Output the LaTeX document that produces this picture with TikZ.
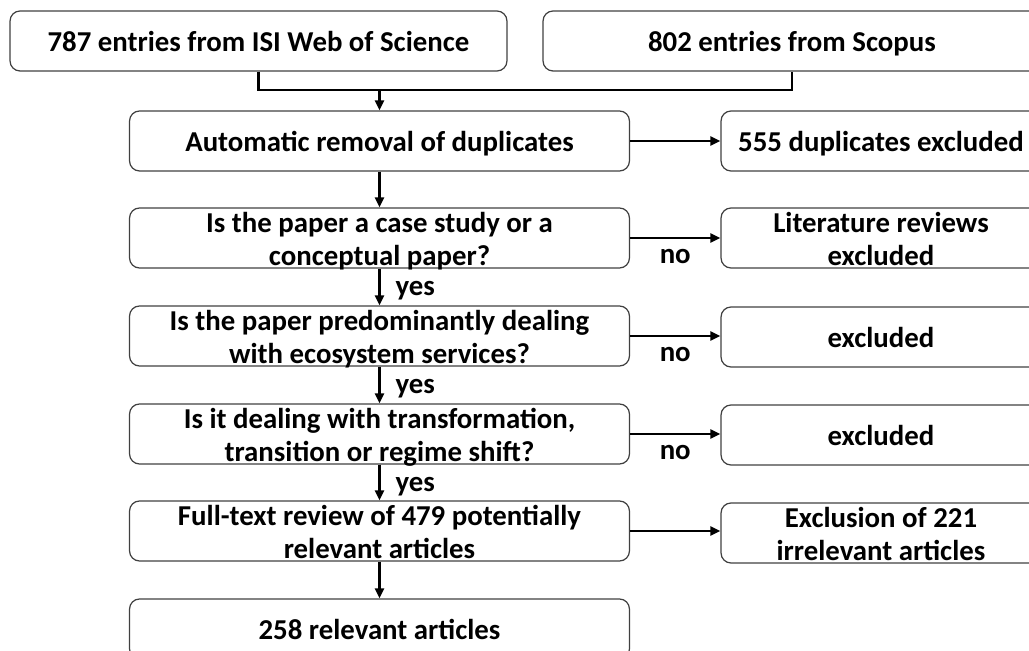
\documentclass[tikz,border=0pt]{standalone}
\usepackage{fontspec}
\setmainfont{Carlito}
\usetikzlibrary{arrows.meta}
\newcommand{\boxstrut}{\rule[-0.1cm]{0pt}{0.64cm}}

\begin{document}
\begin{tikzpicture}[
            x=0.02cm, y=-0.02cm,
            every node/.style={font=\bfseries\fontsize{16.4}{19.2}\selectfont},
            stepbox/.style={draw=black!75, line width=0.7pt, rounded corners=0.2cm, minimum height=1.2cm, inner xsep=0pt, inner ysep=-0.3cm, align=center,
              execute at begin node=\boxstrut, execute at end node=\boxstrut},
            twoline/.style={text height=1.22cm, text depth=0.1cm},
            mainbox/.style={stepbox, minimum width=10cm},
            sidebox/.style={stepbox, minimum width=6.4cm},
            answer/.style={inner sep=0pt},
            flow/.style={line width=1.3pt, -{Triangle[length=2mm,width=1.8mm]}}
            ]
            \useasboundingbox (0,0) rectangle (1029,651);
            \clip (0,0) rectangle (1029,651);
            % sources
            \node[stepbox, minimum width=9.94cm] (wos) at (258.5,41) {787 entries from ISI Web of Science};
            \node[stepbox, minimum width=9.96cm] (scopus) at (792,41) {802 entries from Scopus};
            % screening steps
            \node[mainbox] (dup) at (379.5,141) {Automatic removal of duplicates};
            \node[mainbox, twoline] (case) at (379.5,238) {Is the paper a case study or a\\ conceptual paper?};
            \node[mainbox, twoline] (es) at (379.5,336) {Is the paper predominantly dealing\\ with ecosystem services?};
            \node[mainbox, twoline] (trans) at (379.5,434) {Is it dealing with transformation,\\ transition or regime shift?};
            \node[mainbox, twoline] (full) at (379.5,531) {Full-text review of 479 potentially\\ relevant articles};
            \node[mainbox] (final) at (379.5,629) {258 relevant articles};
            % exclusions
            \node[sidebox] (dupex) at (881,141) {555 duplicates excluded};
            \node[sidebox, twoline] (lit) at (881,238) {Literature reviews\\ excluded};
            \node[sidebox] (esex) at (881,337) {excluded};
            \node[sidebox] (transex) at (881,435) {excluded};
            \node[sidebox, twoline] (irr) at (881,533) {Exclusion of 221\\ irrelevant articles};

            \coordinate (join) at (379.5,90);
            \draw[line width=1.5pt] (wos.south) |- (join) -| (scopus.south);
            \draw[flow] (join) -- (dup);
            \draw[flow] (dup) -- (case);
            \draw[flow] (case) -- node[right=0.3cm, yshift=-0.08cm, answer] {yes} (es);
            \draw[flow] (es) -- node[right=0.3cm, yshift=-0.08cm, answer] {yes} (trans);
            \draw[flow] (trans) -- node[right=0.3cm, yshift=-0.08cm, answer] {yes} (full);
            \draw[flow] (full) -- (final);

            \draw[flow] (dup.east) -- (dup.east -| dupex.west);
            \draw[flow] (case.east) -- node[below=0.2cm, answer] {no} (case.east -| lit.west);
            \draw[flow] (es.east) -- node[below=0.2cm, answer] {no} (es.east -| esex.west);
            \draw[flow] (trans.east) -- node[below=0.2cm, answer] {no} (trans.east -| transex.west);
            \draw[flow] (full.east) -- (full.east -| irr.west);
        \end{tikzpicture}
\end{document}
